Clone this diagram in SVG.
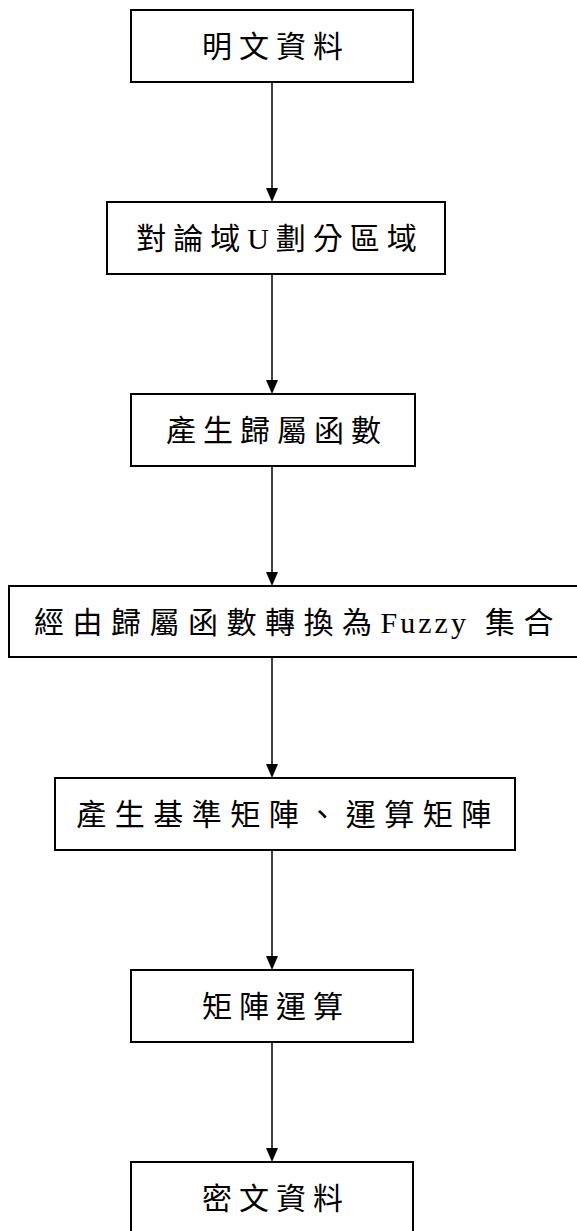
<svg xmlns="http://www.w3.org/2000/svg" width="577" height="1231" viewBox="0 0 577 1231">
<style>
.box{fill:#fff;stroke:#000;stroke-width:2}
.lbl{font-family:"Liberation Serif","Noto Sans CJK TC",serif;font-size:30px;letter-spacing:7px;fill:#000;text-anchor:middle}
.wide{letter-spacing:8.5px}
.lat{letter-spacing:3px}
.conn{stroke:#000;stroke-width:1.5;fill:none}
</style>
<rect width="577" height="1231" fill="#fff"/>
<g id="connectors">
<line class="conn" x1="272" y1="82" x2="272" y2="188"/><path d="M266,188 L278,188 L272,202 Z"/>
<line class="conn" x1="272" y1="274" x2="272" y2="380"/><path d="M266,380 L278,380 L272,394 Z"/>
<line class="conn" x1="272" y1="466" x2="272" y2="572"/><path d="M266,572 L278,572 L272,586 Z"/>
<line class="conn" x1="272" y1="657" x2="272" y2="764"/><path d="M266,764 L278,764 L272,778 Z"/>
<line class="conn" x1="272" y1="850" x2="272" y2="956"/><path d="M266,956 L278,956 L272,970 Z"/>
<line class="conn" x1="272" y1="1042" x2="272" y2="1148"/><path d="M266,1148 L278,1148 L272,1162 Z"/>
</g>
<g id="n1"><rect class="box" x="131" y="10" width="282" height="72"/><text class="lbl" x="276" y="57">明文資料</text></g>
<g id="n2"><rect class="box" x="107" y="202" width="338" height="72"/><text class="lbl" x="280" y="249">對論域U劃分區域</text></g>
<g id="n3"><rect class="box" x="131" y="394" width="284" height="72"/><text class="lbl" x="277" y="441">產生歸屬函數</text></g>
<g id="n4"><rect class="box" x="9" y="586" width="572" height="71"/><text class="lbl wide" x="298" y="633">經由歸屬函數轉換為<tspan class="lat">Fuzzy</tspan> 集合</text></g>
<g id="n5"><rect class="box" x="55" y="778" width="460" height="72"/><text class="lbl wide" x="288" y="825">產生基準矩陣、運算矩陣</text></g>
<g id="n6"><rect class="box" x="131" y="970" width="282" height="72"/><text class="lbl" x="276" y="1017">矩陣運算</text></g>
<g id="n7"><rect class="box" x="131" y="1162" width="282" height="72"/><text class="lbl" x="276" y="1209">密文資料</text></g>
</svg>
